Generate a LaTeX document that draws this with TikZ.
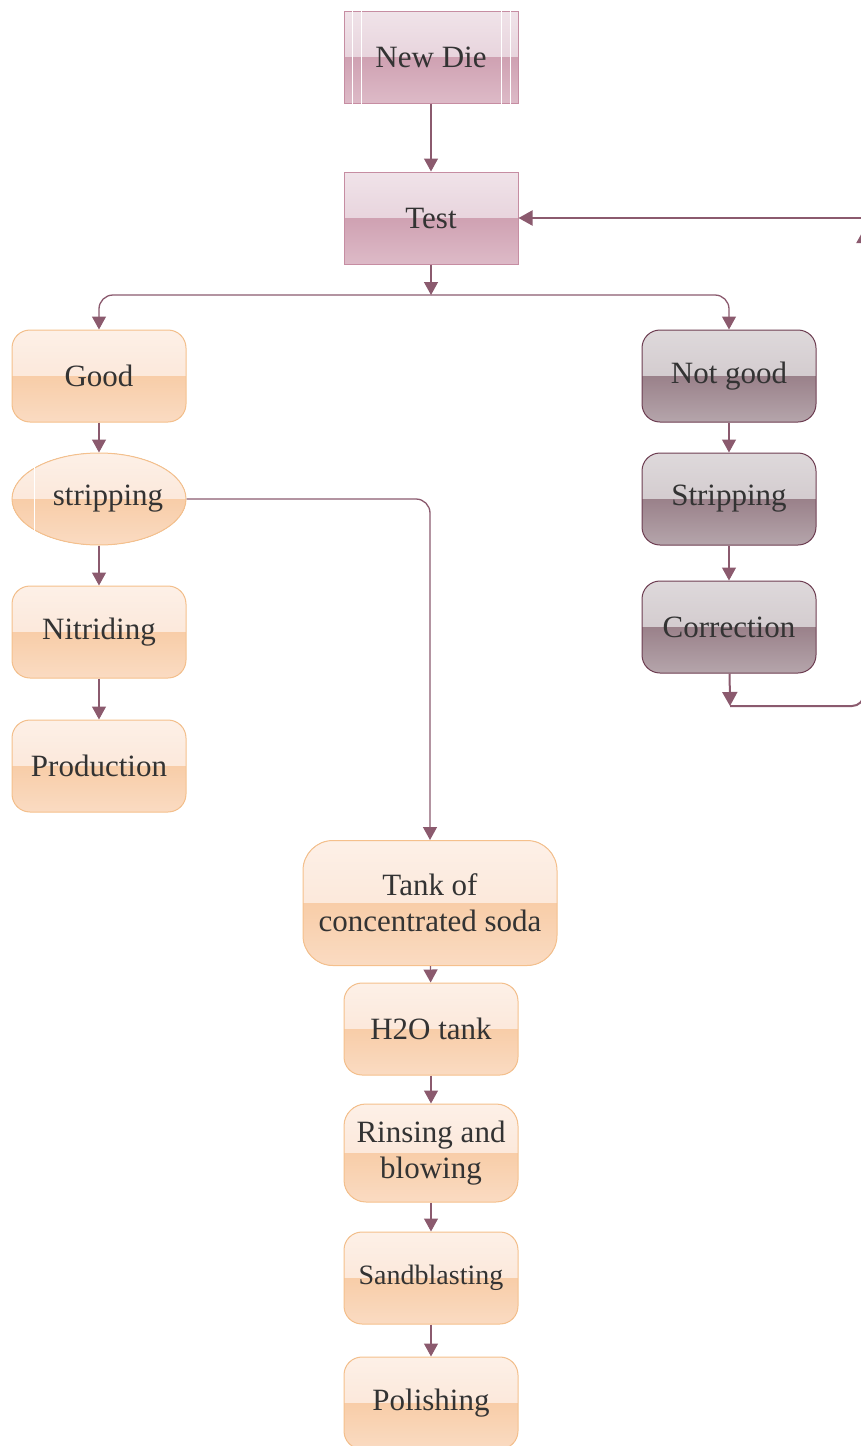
\documentclass[tikz,border=0pt]{standalone}
\usepackage{fontspec}
\setmainfont{Liberation Serif}
\usepackage{xcolor}
\usetikzlibrary{arrows.meta,shapes.geometric,positioning}

\definecolor{flow}{HTML}{8B5A6E}
\definecolor{ink}{HTML}{333333}
% orange boxes
\definecolor{okline}{HTML}{F5C08C}
\definecolor{okA}{HTML}{FDF0E7}
\definecolor{okB}{HTML}{FAE1CF}
\definecolor{okC}{HTML}{F8CDA8}
\definecolor{okD}{HTML}{FADBC2}
% pink boxes
\definecolor{dieline}{HTML}{C68DA2}
\definecolor{dieA}{HTML}{F0E3E9}
\definecolor{dieB}{HTML}{E0C6D1}
\definecolor{dieC}{HTML}{CFA1B2}
\definecolor{dieD}{HTML}{DDBAC7}
% grey boxes
\definecolor{ngline}{HTML}{6E3E52}
\definecolor{ngA}{HTML}{DED9DB}
\definecolor{ngB}{HTML}{C9BFC3}
\definecolor{ngC}{HTML}{9A818A}
\definecolor{ngD}{HTML}{B5A5AB}

\tikzset{
  box/.style={draw, line width=1pt, minimum width=174pt, minimum height=92pt,
    inner sep=2pt, align=center, text=ink, font=\fontsize{31}{36}\selectfont},
  gloss/.style n args={4}{path picture={
    \fill[sharp corners,top color=#1,bottom color=#2] (path picture bounding box.north west) rectangle (path picture bounding box.east);
    \fill[sharp corners,top color=#3,bottom color=#4] (path picture bounding box.west) rectangle (path picture bounding box.south east);}},
  diebox/.style={box, draw=dieline, gloss={dieA}{dieB}{dieC}{dieD}},
  okbox/.style={box, rounded corners=18pt, draw=okline, gloss={okA}{okB}{okC}{okD}},
  ngbox/.style={box, rounded corners=18pt, draw=ngline, gloss={ngA}{ngB}{ngC}{ngD}},
  okoval/.style={box, ellipse, draw=okline, gloss={okA}{okB}{okC}{okD}},
  link/.style={draw=flow, line width=1.3pt, -{Triangle[width=14pt,length=13pt]}},
  back/.style={draw=flow, line width=2pt, -{Triangle[width=15pt,length=14pt]}},
}

\begin{document}
\begin{tikzpicture}[x=1pt,y=-1pt]
\useasboundingbox (0,0) rectangle (861,1446);

% die under test
\node[diebox] (newdie) at (431,57) {New Die};
\node[diebox] (test) at (431,218) {Test};
\foreach \dx in {-79,-70,70,79}
  \draw[white, line width=1pt] ([xshift=\dx pt]newdie.north) -- ([xshift=\dx pt]newdie.south);
\coordinate (split) at (431,295);

% good branch
\node[okbox] (good) at (99,376) {Good};
\node[okoval] (strip) at (99,499) {\rlap{\hspace{9pt}stripping}\phantom{stripping}};
\draw[white, line width=1pt] (34,467) -- (34,532);
\node[okbox] (nitri) at (99,632) {Nitriding};
\node[okbox] (prod) at (99,766) {Production};

% not good branch
\node[ngbox] (notgood) at (729,376) {Not good};
\node[ngbox] (strip2) at (729,499) {Stripping};
\node[ngbox] (corr) at (729,627) {Correction};
\coordinate (loop) at (730,706);
\coordinate (rtop) at (864,218);
\coordinate (rhead) at (864,229);

% cleaning line
\node[okbox, minimum width=254pt, minimum height=125pt, rounded corners=30pt] (tank) at (430,903) {Tank of\\concentrated soda};
\node[okbox] (water) at (431,1029) {H2O tank};
\node[okbox, minimum height=98pt, rounded corners=22pt] (rinse) at (431,1153) {Rinsing and\\blowing};
\node[okbox, font=\fontsize{28}{34}\selectfont] (sand) at (431,1278) {Sandblasting};
\node[okbox] (polish) at (431,1403) {Polishing};

% connectors
\draw[link] (newdie) -- (test);
\draw[link] (test) -- (split);
\draw[link, rounded corners=14pt] (split) -| (good.north);
\draw[link, rounded corners=14pt] (split) -| (notgood.north);
\draw[link] (good) -- (strip);
\draw[link] (strip) -- (nitri);
\draw[link] (nitri) -- (prod);
\draw[link, rounded corners=14pt] (strip.east) -| (tank.north);
\draw[link] (tank) -- (water);
\draw[link] (water) -- (rinse);
\draw[link] (rinse) -- (sand);
\draw[link] (sand) -- (polish);
\draw[link] (notgood) -- (strip2);
\draw[link] (strip2) -- (corr);
\draw[back] (corr) -- (loop);
\draw[back, rounded corners=12pt] (loop) -| (rhead);
\draw[back] (rtop) -- (test.east);
\end{tikzpicture}
\end{document}
